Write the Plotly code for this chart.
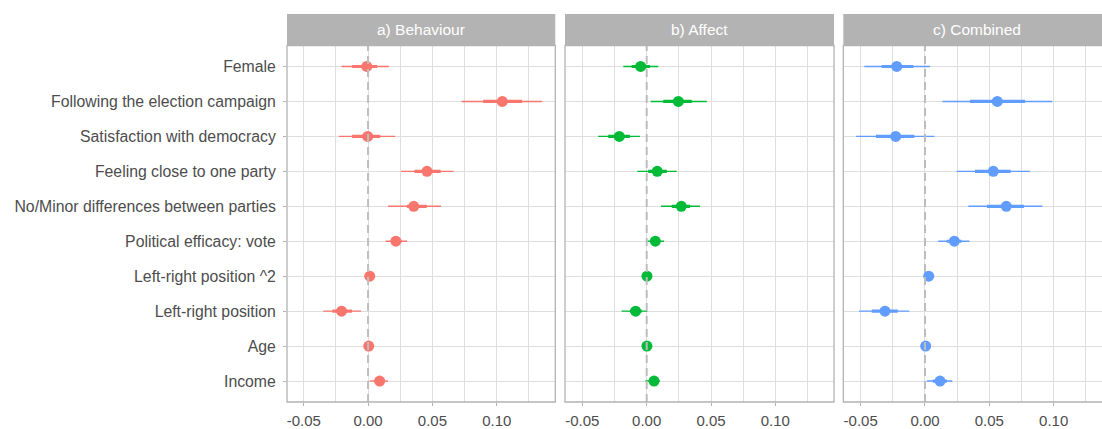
import plotly.graph_objects as go

# Predictors, listed top to bottom
variables = [
    "Female",
    "Following the election campaign",
    "Satisfaction with democracy",
    "Feeling close to one party",
    "No/Minor differences between parties",
    "Political efficacy: vote",
    "Left-right position ^2",
    "Left-right position",
    "Age",
    "Income",
]

panels = ["a) Behaviour", "b) Affect", "c) Combined"]
colors = ["#F8766D", "#00BA38", "#619CFF"]

# a) Behaviour: estimate, inner interval, outer interval
beh_est = [-0.001, 0.1043, -0.0003, 0.0458, 0.0355, 0.0216, 0.0013, -0.0206, 0.0005, 0.0090]
beh_lo_in = [-0.0124, 0.0894, -0.0124, 0.0360, 0.0301, 0.0180, 0.0008, -0.0278, 0.0002, 0.0050]
beh_hi_in = [0.0070, 0.1196, 0.0095, 0.0564, 0.0456, 0.0260, 0.0018, -0.0124, 0.0008, 0.0130]
beh_lo_out = [-0.0206, 0.0727, -0.0227, 0.0255, 0.0155, 0.0136, 0.0003, -0.0348, -0.0001, 0.0012]
beh_hi_out = [0.0162, 0.1353, 0.0211, 0.0665, 0.0567, 0.0304, 0.0023, -0.0054, 0.0011, 0.0155]

# b) Affect
aff_est = [-0.0047, 0.0246, -0.0213, 0.0082, 0.0269, 0.0067, 0.0002, -0.0086, 0.0002, 0.0057]
aff_lo_in = [-0.0117, 0.0129, -0.0299, 0.0012, 0.0195, 0.0040, -0.0001, -0.0130, -0.0001, 0.0030]
aff_hi_in = [0.0026, 0.0350, -0.0130, 0.0156, 0.0337, 0.0100, 0.0005, -0.0039, 0.0005, 0.0080]
aff_lo_out = [-0.0182, 0.0031, -0.0377, -0.0073, 0.0111, 0.0005, -0.0004, -0.0195, -0.0004, -0.0010]
aff_hi_out = [0.0090, 0.0467, -0.0052, 0.0233, 0.0415, 0.0135, 0.0008, 0.0005, 0.0008, 0.0104]

# c) Combined
com_est = [-0.0220, 0.0562, -0.0228, 0.0531, 0.0632, 0.0228, 0.0029, -0.0311, 0.0005, 0.0117]
com_lo_in = [-0.0337, 0.0350, -0.0381, 0.0389, 0.0482, 0.0169, 0.0024, -0.0414, 0.0001, 0.0060]
com_hi_in = [-0.0091, 0.0778, -0.0083, 0.0666, 0.0770, 0.0285, 0.0034, -0.0212, 0.0009, 0.0170]
com_lo_out = [-0.0472, 0.0135, -0.0537, 0.0246, 0.0337, 0.0103, 0.0019, -0.0513, -0.0003, 0.0013]
com_hi_out = [0.0039, 0.0990, 0.0073, 0.0817, 0.0912, 0.0345, 0.0039, -0.0122, 0.0013, 0.0212]

x_ticks = [-0.05, 0.00, 0.05, 0.10]
x_tick_labels = ["-0.05", "0.00", "0.05", "0.10"]

series = [
    (beh_est, beh_lo_in, beh_hi_in, beh_lo_out, beh_hi_out),
    (aff_est, aff_lo_in, aff_hi_in, aff_lo_out, aff_hi_out),
    (com_est, com_lo_in, com_hi_in, com_lo_out, com_hi_out),
]

GRID = "#DEDEDE"
BORDER = "#B3B3B3"
TEXT = "#4D4D4D"
FONT = "Liberation Sans, Arial, sans-serif"

x_domains = [[0.0, 0.3292], [0.3411, 0.6712], [0.6826, 1.0]]
x_ranges = [[-0.0630, 0.1455], [-0.0635, 0.1456], [-0.0635, 0.1376]]
y_top = 0.9188
panel_w = x_domains[0][1] - x_domains[0][0]


def segments(lo, hi, cats):
    xs, ys = [], []
    for a, b, c in zip(lo, hi, cats):
        xs += [a, b, None]
        ys += [c, c, None]
    return xs, ys


fig = go.Figure()
shapes = []
annotations = []

for i, (est, lo_in, hi_in, lo_out, hi_out) in enumerate(series):
    sfx = "" if i == 0 else str(i + 1)
    xa, ya = "x" + sfx, "y" + sfx
    col = colors[i]

    xs, ys = segments(lo_out, hi_out, variables)
    fig.add_trace(go.Scatter(x=xs, y=ys, mode="lines", xaxis=xa, yaxis=ya,
                             line=dict(color=col, width=1.4), hoverinfo="skip",
                             showlegend=False))
    xs, ys = segments(lo_in, hi_in, variables)
    fig.add_trace(go.Scatter(x=xs, y=ys, mode="lines", xaxis=xa, yaxis=ya,
                             line=dict(color=col, width=3.2), hoverinfo="skip",
                             showlegend=False))
    fig.add_trace(go.Scatter(x=est, y=variables, mode="markers", xaxis=xa, yaxis=ya,
                             marker=dict(color=col, size=11, line=dict(width=0)),
                             showlegend=False))

    fig.layout["xaxis" + sfx] = dict(
        domain=x_domains[i], range=x_ranges[i], anchor=ya,
        tickmode="array", tickvals=x_ticks, ticktext=x_tick_labels,
        showgrid=True, gridcolor=GRID, gridwidth=1,
        minor=dict(tickmode="array", tickvals=[-0.025, 0.025, 0.075, 0.125],
                   showgrid=True, gridcolor=GRID, gridwidth=1, ticks=""),
        ticks="outside", ticklen=3, tickcolor=BORDER, tickwidth=1,
        ticklabelstandoff=2,
        tickfont=dict(family=FONT, size=15, color=TEXT),
        zeroline=False, showline=False, fixedrange=True,
    )
    fig.layout["yaxis" + sfx] = dict(
        domain=[0, y_top], anchor=xa, type="category",
        categoryorder="array", categoryarray=variables[::-1],
        range=[-0.6, len(variables) - 0.4],
        showgrid=True, gridcolor=GRID, gridwidth=1,
        showticklabels=(i == 0),
        ticks="outside" if i == 0 else "", ticklen=3, tickcolor=BORDER, tickwidth=1,
        ticklabelstandoff=4,
        tickfont=dict(family=FONT, size=15.8, color=TEXT),
        zeroline=False, showline=False, fixedrange=True,
    )
    if i > 0:
        fig.layout["yaxis" + sfx]["matches"] = "y"

    # reference line at zero
    shapes.append(dict(type="line", xref=xa, yref=ya + " domain", x0=0, x1=0, y0=0, y1=1,
                       line=dict(color="#BDBDBD", width=2, dash="8px,5px"), layer="above"))
    # panel border
    x1 = 1.0 if i < 2 else 1.06
    shapes.append(dict(type="rect", xref=xa + " domain", yref=ya + " domain",
                       x0=0, x1=x1, y0=0, y1=1, line=dict(color=BORDER, width=1.3),
                       fillcolor="rgba(0,0,0,0)", layer="above"))
    # facet strip
    d0, d1 = x_domains[i]
    shapes.append(dict(type="rect", xref="paper", yref="paper",
                       x0=d0, x1=d1 if i < 2 else 1.05, y0=y_top, y1=1.0,
                       line=dict(width=0), fillcolor="#B3B3B3", layer="below"))
    annotations.append(dict(text=panels[i], xref="paper", yref="paper",
                            x=d0 + panel_w / 2,
                            y=(y_top + 1.0) / 2, xanchor="center", yanchor="middle",
                            showarrow=False,
                            font=dict(family=FONT, size=15.5, color="white")))

fig.update_layout(
    width=1102, height=429,
    margin=dict(l=287, r=0, t=14, b=25),
    paper_bgcolor="white", plot_bgcolor="white",
    shapes=shapes, annotations=annotations,
    showlegend=False,
)

fig.write_html("out.html", config={"displayModeBar": False})
